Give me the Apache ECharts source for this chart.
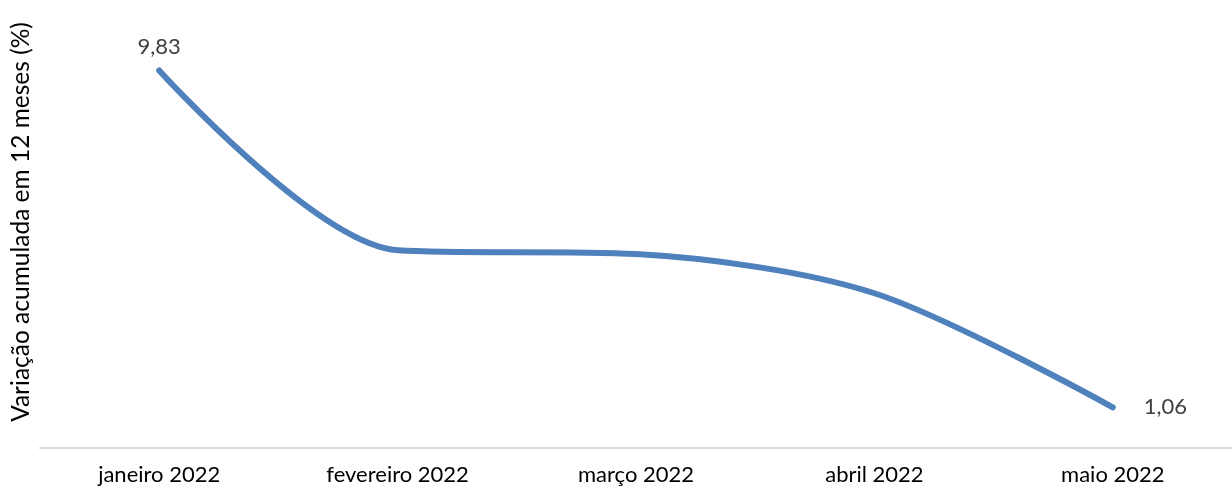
<!DOCTYPE html>
<html><head><meta charset="utf-8">
<script src="https://cdn.jsdelivr.net/npm/echarts@6/dist/echarts.min.js"></script>
<style>html,body{margin:0;padding:0;background:#fff}#c{width:1232px;height:489px}</style>
</head><body><div id="c"></div>
<script>
const categories = ['janeiro 2022','fevereiro 2022','março 2022','abril 2022','maio 2022'];
const values = [9.83, 5.15, 5.05, 4.03, 1.06];
const labelled = [true, false, false, false, true];
const labelPos = ['top','top','top','top','right'];
const yTitle = 'Variação acumulada em 12 meses (%)';
const FONT = 'Lato';

const chart = echarts.init(document.getElementById('c'), null, {renderer:'canvas'});
chart.setOption({
  animation:false,
  textStyle:{fontFamily:FONT},
  grid:{left:40, right:-11, top:64, bottom:41},
  xAxis:{type:'category', data:categories, boundaryGap:true,
    axisLine:{lineStyle:{color:'#d9d9d9', width:2}}, axisTick:{show:false},
    axisLabel:{color:'#000', fontSize:22, fontFamily:FONT, margin:16}},
  yAxis:{type:'value', min:0, max:10, show:false},
  graphic:[{type:'text', x:21, y:222, rotation:Math.PI/2,
    style:{text:yTitle, fill:'#000', font:'24.5px '+FONT, textAlign:'center', textVerticalAlign:'middle'}}],
  series:[{type:'line', smooth:0.3, symbol:'circle', symbolSize:2, showSymbol:true,
    itemStyle:{color:'#4f81bd'},
    lineStyle:{color:'#4f81bd', width:6, cap:'round'},
    data: values.map((v,i)=>({value:v,
      label:{show:labelled[i], position:labelPos[i], distance:labelPos[i]==='right'?30:12,
        formatter:p=>String(p.value.toFixed(2)).replace('.',','), color:'#404040', fontSize:22, fontFamily:FONT}}))
  }]
});
</script></body></html>
